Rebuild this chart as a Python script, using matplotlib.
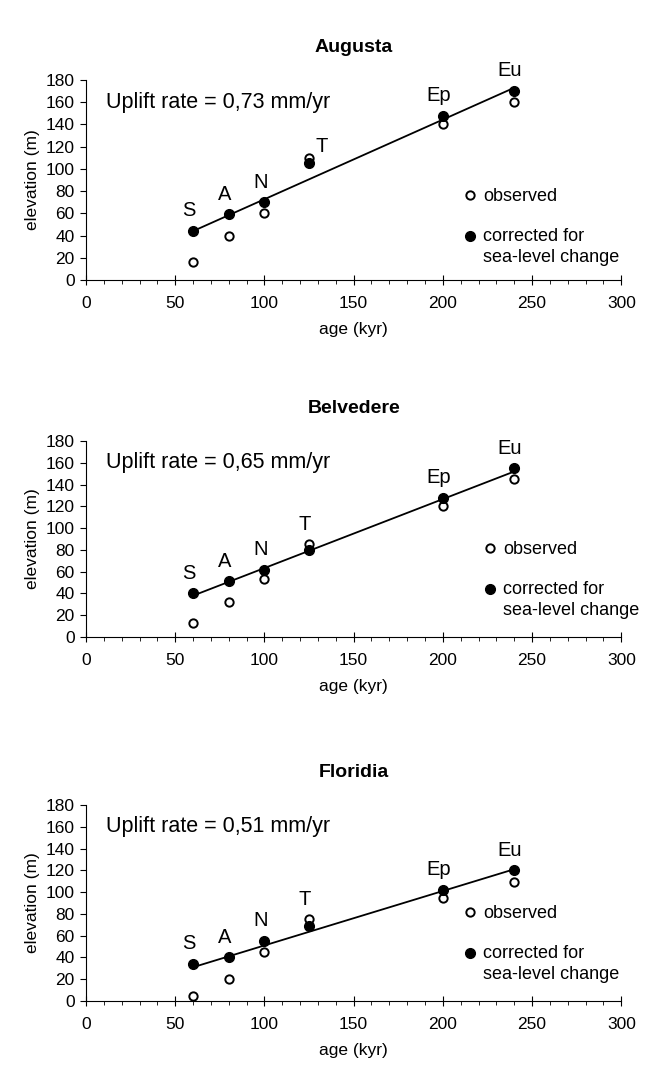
import matplotlib.pyplot as plt
from matplotlib.ticker import MultipleLocator
from matplotlib.legend_handler import HandlerLine2D

plt.rcParams['font.family'] = ['Liberation Sans', 'DejaVu Sans']

terraces = ['S', 'A', 'N', 'T', 'Ep', 'Eu']
age = [60, 80, 100, 125, 200, 240]
fit_age = [60, 240]

sites = ['Augusta', 'Belvedere', 'Floridia']
uplift_rates = ['0,73', '0,65', '0,51']

augusta_observed = [16, 40, 60, 110, 140, 160]
augusta_corrected = [44, 59, 70, 105, 148, 170]
augusta_fit = [44, 173]

belvedere_observed = [13, 32, 53, 85, 120, 145]
belvedere_corrected = [40, 51, 62, 80, 128, 155]
belvedere_fit = [38, 152]

floridia_observed = [5, 20, 45, 75, 95, 109]
floridia_corrected = [34, 40, 55, 69, 102, 120]
floridia_fit = [31, 121]

observed = [augusta_observed, belvedere_observed, floridia_observed]
corrected = [augusta_corrected, belvedere_corrected, floridia_corrected]
fits = [augusta_fit, belvedere_fit, floridia_fit]

# axes boxes in figure fraction (left, bottom, width, height)
boxes = [(0.1333, 0.7405, 0.830, 0.1854),
         (0.1333, 0.4096, 0.830, 0.1817),
         (0.1333, 0.0723, 0.830, 0.1817)]
legend_anchor = [(0.708, 0.46), (0.745, 0.49), (0.708, 0.49)]


class FirstLineHandler(HandlerLine2D):
    # put the marker next to the first line of a two-line label
    def create_artists(self, legend, orig_handle, xdescent, ydescent, width, height,
                       fontsize, trans):
        artists = super().create_artists(legend, orig_handle, xdescent, ydescent,
                                         width, height, fontsize, trans)
        for a in artists:
            a.set_ydata([y + 0.62 * fontsize for y in a.get_ydata()])
        return artists


fig = plt.figure(figsize=(6.45, 10.79), dpi=100)

for i, site in enumerate(sites):
    ax = fig.add_axes(boxes[i])
    ax.plot(fit_age, fits[i], color='k', lw=1.3, zorder=2)
    obs, = ax.plot(age, observed[i], 'o', ms=6, mfc='white', mec='k', mew=1.4,
                   ls='none', label='observed', zorder=3)
    cor, = ax.plot(age, corrected[i], 'o', ms=7, mfc='k', mec='k',
                   ls='none', label='corrected for\nsea-level change', zorder=4)

    for j, name in enumerate(terraces):
        top = max(observed[i][j], corrected[i][j])
        dx, dy = -3, 14.5
        if i == 0 and name == 'T':
            dx, dy = 9, 8
        ax.annotate(name, (age[j], top), xytext=(dx, dy), textcoords='offset points',
                    ha='center', va='center', fontsize=14.5)

    ax.text(11, 160, 'Uplift rate = %s mm/yr' % uplift_rates[i], fontsize=15.5,
            va='center', ha='left')

    ax.set_xlim(0, 300)
    ax.set_ylim(0, 180)
    ax.xaxis.set_major_locator(MultipleLocator(50))
    ax.xaxis.set_minor_locator(MultipleLocator(10))
    ax.yaxis.set_major_locator(MultipleLocator(20))
    ax.tick_params(axis='x', which='major', direction='inout', length=7, labelsize=12.5, pad=8)
    ax.tick_params(axis='x', which='minor', direction='out', length=3)
    ax.tick_params(axis='y', which='major', direction='out', length=4, labelsize=12.5, pad=4)
    for s in ['top', 'right']:
        ax.spines[s].set_visible(False)
    ax.set_title(site, fontsize=14, fontweight='bold', pad=20)
    ax.set_xlabel('age (kyr)', fontsize=12.5, labelpad=8)
    ax.set_ylabel('elevation (m)', fontsize=12.5, labelpad=4)
    leg = ax.legend(handles=[obs, cor], loc='upper left', bbox_to_anchor=legend_anchor[i],
                    frameon=False, fontsize=13, handlelength=0.6, handletextpad=0.42,
                    labelspacing=1.3, borderpad=0, borderaxespad=0,
                    handler_map={cor: FirstLineHandler()})
    for t in leg.get_texts():
        t.set_linespacing(1.3)

fig.savefig('out.png', dpi=100)
